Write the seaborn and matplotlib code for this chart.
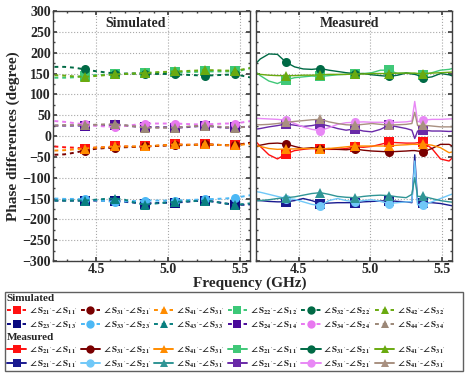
import numpy as np
import pandas as pd
import seaborn as sns
import matplotlib.pyplot as plt
from matplotlib.lines import Line2D
from matplotlib.patches import Rectangle
from matplotlib.ticker import MultipleLocator

sns.set_theme(style="ticks", rc={"axes.edgecolor": "#404040", "axes.linewidth": 1.0})
plt.rcParams["font.family"] = ["Liberation Serif", "DejaVu Serif"]
plt.rcParams["font.weight"] = "bold"
plt.rcParams["mathtext.fontset"] = "stix"

# ---- simulated data (GHz, degree)
sim_freq = [4.21, 4.28, 4.35, 4.42, 4.49, 4.56, 4.63, 4.70, 4.77, 4.84, 4.91,
            4.98, 5.05, 5.12, 5.19, 5.26, 5.33, 5.40, 5.47, 5.54, 5.61]
sim_marks = [4.42, 4.63, 4.84, 5.05, 5.26, 5.47]

sim_s21_s11 = [-25, -27, -28, -30, -28, -27, -25, -25, -26, -25, -24, -22, -20, -21, -21, -20, -21, -22, -22, -18, -15]
sim_s31_s21 = [-45, -44, -40, -35, -31, -29, -28, -27, -26, -25, -24, -23, -22, -22, -21, -20, -21, -22, -22, -18, -14]
sim_s41_s31 = [-35, -34, -32, -30, -28, -27, -25, -25, -25, -25, -23, -22, -20, -21, -21, -20, -21, -22, -22, -20, -18]
sim_s22_s12 = [140, 140, 141, 145, 146, 147, 148, 149, 150, 151, 152, 152, 153, 153, 154, 155, 155, 155, 155, 160, 166]
sim_s32_s22 = [166, 166, 164, 160, 156, 153, 150, 150, 150, 150, 149, 149, 148, 147, 146, 145, 146, 147, 148, 143, 138]
sim_s42_s32 = [146, 145, 143, 142, 144, 146, 148, 149, 150, 151, 153, 154, 155, 156, 157, 158, 158, 157, 157, 161, 166]
sim_s23_s13 = [-155, -155, -155, -155, -155, -155, -155, -158, -160, -162, -161, -160, -160, -158, -156, -155, -158, -162, -165, -165, -163]
sim_s33_s23 = [-150, -151, -151, -152, -154, -156, -158, -157, -156, -155, -155, -155, -155, -154, -153, -152, -151, -150, -148, -144, -140]
sim_s43_s33 = [-155, -155, -155, -155, -153, -151, -150, -153, -160, -165, -162, -160, -158, -157, -156, -155, -158, -162, -165, -163, -160]
sim_s24_s14 = [25, 25, 25, 25, 26, 26, 27, 25, 23, 22, 21, 21, 20, 21, 23, 25, 22, 20, 21, 22, 22]
sim_s34_s24 = [36, 34, 31, 28, 25, 23, 22, 24, 27, 30, 30, 30, 30, 29, 28, 28, 29, 30, 30, 34, 38]
sim_s44_s34 = [25, 26, 26, 27, 27, 28, 28, 26, 23, 20, 20, 20, 20, 22, 24, 25, 23, 21, 20, 22, 24]

# ---- measured data
meas_freq = [4.17, 4.23, 4.29, 4.35, 4.41, 4.47, 4.53, 4.59, 4.65, 4.71, 4.77, 4.83, 4.89, 4.95,
             5.01, 5.07, 5.13, 5.19, 5.25, 5.29, 5.31, 5.33, 5.37, 5.43, 5.49, 5.55, 5.61]
meas_marks = [4.41, 4.65, 4.89, 5.13, 5.37]

m1_s21_s11 = [-2, -25, -45, -55, -43, -35, -32, -30, -30, -32, -32, -30, -26, -27, -25, -20, -15, -16, -17, -17, -17, -16, -15, -30, -55, -60, -40]
m1_s31_s21 = [-30, -22, -18, -17, -19, -25, -30, -28, -31, -30, -32, -33, -31, -34, -36, -37, -38, -37, -36, -35, -35, -36, -38, -30, -20, -20, -30]
m1_s41_s31 = [-20, -25, -30, -32, -31, -31, -30, -30, -31, -30, -28, -26, -24, -24, -24, -24, -24, -22, -21, -20, -20, -20, -19, -22, -28, -40, -35]
m2_s21_s11 = [162, 145, 132, 126, 135, 140, 142, 144, 143, 145, 147, 148, 149, 150, 152, 158, 158, 150, 152, 150, 150, 150, 147, 152, 158, 160, 165]
m2_s31_s21 = [164, 185, 197, 196, 177, 166, 161, 160, 162, 158, 155, 152, 150, 150, 147, 145, 143, 146, 151, 149, 148, 146, 139, 142, 150, 147, 140]
m2_s41_s31 = [152, 148, 146, 145, 145, 145, 146, 146, 147, 148, 148, 148, 149, 149, 150, 150, 150, 151, 151, 151, 151, 150, 150, 151, 152, 153, 155]
m3_s21_s11 = [-155, -155, -157, -158, -158, -155, -150, -155, -162, -161, -160, -160, -160, -158, -157, -156, -155, -157, -158, -160, -45, -160, -160, -160, -162, -166, -170]
m3_s31_s21 = [-132, -135, -140, -145, -150, -152, -158, -164, -167, -155, -150, -155, -158, -155, -153, -157, -162, -160, -158, -158, -60, -165, -165, -158, -150, -142, -135]
m3_s41_s31 = [-155, -155, -153, -150, -148, -146, -142, -138, -136, -140, -145, -147, -148, -145, -143, -142, -143, -146, -148, -140, -100, -145, -145, -150, -155, -158, -160]
m4_s21_s11 = [15, 18, 22, 25, 29, 26, 23, 25, 29, 24, 18, 14, 17, 12, 10, 16, 26, 22, 18, 14, -6, 12, 14, 12, 12, 11, 12]
m4_s31_s21 = [43, 42, 41, 40, 38, 30, 22, 16, 13, 20, 28, 32, 33, 34, 33, 33, 32, 33, 34, 36, 83, 34, 38, 40, 40, 41, 42]
m4_s41_s31 = [28, 27, 28, 30, 33, 35, 37, 39, 40, 34, 30, 27, 26, 28, 30, 28, 26, 27, 28, 30, 57, 25, 26, 24, 22, 22, 22]

A = r"$\angle$"
def lab(a, b):
    return A + r"$\,\mathrm{S}_{" + a + "'}$-" + A + r"$\,\mathrm{S}_{" + b + "'}$"

# (label, color, marker, values) in legend row order
simulated = [
    (lab("21", "11"), "#ff1010", "s", sim_s21_s11),
    (lab("31", "21"), "#7a0000", "o", sim_s31_s21),
    (lab("41", "31"), "#ff8c00", "^", sim_s41_s31),
    (lab("22", "12"), "#3cc878", "s", sim_s22_s12),
    (lab("32", "22"), "#006a45", "o", sim_s32_s22),
    (lab("42", "32"), "#6aaa10", "^", sim_s42_s32),
    (lab("23", "13"), "#0a0a80", "s", sim_s23_s13),
    (lab("33", "23"), "#4cb8f5", "o", sim_s33_s23),
    (lab("43", "33"), "#0a8080", "^", sim_s43_s33),
    (lab("24", "14"), "#4a0a9a", "s", sim_s24_s14),
    (lab("34", "24"), "#e878f0", "o", sim_s34_s24),
    (lab("44", "34"), "#9c8878", "^", sim_s44_s34),
]
measured = [
    (lab("21", "11"), "#ff1010", "s", m1_s21_s11),
    (lab("31", "21"), "#7a0000", "o", m1_s31_s21),
    (lab("41", "31"), "#ff8c00", "^", m1_s41_s31),
    (lab("21", "11"), "#40c878", "s", m2_s21_s11),
    (lab("31", "21"), "#006a45", "o", m2_s31_s21),
    (lab("41", "31"), "#6aaa10", "^", m2_s41_s31),
    (lab("21", "11"), "#1a1a90", "s", m3_s21_s11),
    (lab("31", "21"), "#70c8f8", "o", m3_s31_s21),
    (lab("41", "31"), "#309595", "^", m3_s41_s31),
    (lab("21", "11"), "#6a2aa8", "s", m4_s21_s11),
    (lab("31", "21"), "#e888f5", "o", m4_s31_s21),
    (lab("41", "31"), "#a89080", "^", m4_s41_s31),
]

fig = plt.figure(figsize=(4.71, 3.77), dpi=100)
ax1 = fig.add_axes([0.1125, 0.3077, 0.418, 0.663])
ax2 = fig.add_axes([0.5435, 0.3077, 0.416, 0.663], sharey=ax1)

sim_idx = [sim_freq.index(f) for f in sim_marks]
meas_idx = [meas_freq.index(f) for f in meas_marks]
sim_ls = (0, (2, 2))

for name, c, m, vals in simulated:
    sns.lineplot(x=sim_freq, y=vals, ax=ax1, color=c, marker=m, markersize=6.5,
                 markevery=sim_idx, linestyle=sim_ls, linewidth=1.4,
                 markeredgewidth=0, legend=False)
for name, c, m, vals in measured:
    sns.lineplot(x=meas_freq, y=vals, ax=ax2, color=c, marker=m, markersize=6.5,
                 markevery=meas_idx, linewidth=1.0, markeredgewidth=0,
                 legend=False)

for ax in (ax1, ax2):
    ax.set_xlim(4.2, 5.57)
    ax.set_ylim(-300, 300)
    ax.xaxis.set_major_locator(MultipleLocator(0.5))
    ax.xaxis.set_minor_locator(MultipleLocator(0.1))
    ax.yaxis.set_major_locator(MultipleLocator(50))
    ax.yaxis.set_minor_locator(MultipleLocator(25))
    ax.grid(True, which="major", linestyle=":", color="#a8a8a8", linewidth=0.8)
    ax.tick_params(which="both", direction="in", top=True, right=True,
                   labelsize=10, color="#404040", pad=1.5)
    ax.tick_params(which="major", length=3)
    ax.tick_params(which="minor", length=1.5)
    for t in ax.get_xticklabels() + ax.get_yticklabels():
        t.set_fontweight("bold")
    ax.set_xlabel("")
    ax.set_ylabel("")
ax2.tick_params(labelleft=False)

ax1.text(0.42, 0.952, "Simulated", transform=ax1.transAxes, ha="center",
         va="center", fontsize=10, fontweight="bold")
ax2.text(0.48, 0.952, "Measured", transform=ax2.transAxes, ha="center",
         va="center", fontsize=10, fontweight="bold")
ax1.set_ylabel("Phase differences (degree)", fontsize=11, fontweight="bold", labelpad=2)
fig.text(250 / 471, 1 - 283 / 377, "Frequency (GHz)", ha="center", va="center",
         fontsize=11, fontweight="bold")

# ---- legend
order = [0, 6, 1, 7, 2, 8, 3, 9, 4, 10, 5, 11]

def make_legend(entries, ls, title, top):
    hs = [Line2D([], [], color=entries[i][1], marker=entries[i][2], markersize=6,
                 markeredgewidth=0, linestyle=ls, linewidth=1.4) for i in order]
    ls_ = [entries[i][0] for i in order]
    leg = fig.legend(hs, ls_, ncol=6, loc="upper left",
                     bbox_to_anchor=(6 / 471, 1 - top / 377), frameon=False,
                     title=title, alignment="left", fontsize=6.6,
                     title_fontproperties={"weight": "bold", "size": 8},
                     handlelength=2.1, handletextpad=0.3, columnspacing=0.35,
                     labelspacing=0.3, borderpad=0.1, borderaxespad=0)
    for t in leg.get_texts():
        t.set_fontweight("normal")
    return leg

make_legend(simulated, sim_ls, "Simulated", 293)
make_legend(measured, "-", "Measured", 332)

fig.add_artist(Rectangle((5 / 471, 1 - 371 / 377), 458 / 471, 79 / 377,
                         transform=fig.transFigure, fill=False,
                         edgecolor="#606060", linewidth=1.0))

fig.savefig("out.png", dpi=100)
